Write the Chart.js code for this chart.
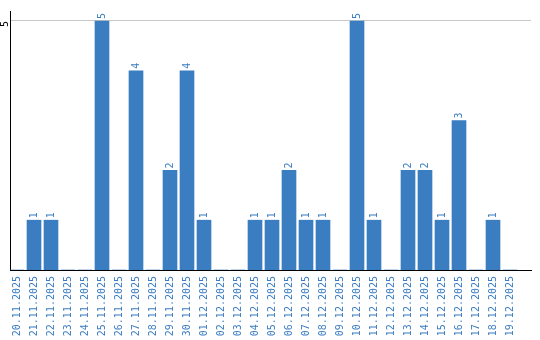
<!DOCTYPE html>
<html>
<head>
<meta charset="utf-8">
<script src="https://cdn.jsdelivr.net/npm/chart.js@4/dist/chart.umd.min.js"></script>
<style>
  html, body { margin: 0; padding: 0; background: #ffffff; }
  #wrap { width: 540px; height: 340px; }
</style>
</head>
<body>
<div id="wrap"><canvas id="c" width="540" height="340"></canvas></div>
<script>
const categories = [
  "20.11.2025","21.11.2025","22.11.2025","23.11.2025","24.11.2025","25.11.2025",
  "26.11.2025","27.11.2025","28.11.2025","29.11.2025","30.11.2025","01.12.2025",
  "02.12.2025","03.12.2025","04.12.2025","05.12.2025","06.12.2025","07.12.2025",
  "08.12.2025","09.12.2025","10.12.2025","11.12.2025","12.12.2025","13.12.2025",
  "14.12.2025","15.12.2025","16.12.2025","17.12.2025","18.12.2025","19.12.2025"
];
const values = [
  0,1,1,0,0,5,
  0,4,0,2,4,1,
  0,0,1,1,2,1,
  1,0,5,1,0,2,
  2,1,3,0,1,0
];
const yTicks = [5];

const BLUE = '#3b7dc1';
const FONT = '"DejaVu Sans Mono", "Liberation Mono", monospace';

const valueLabels = {
  id: 'valueLabels',
  afterDatasetsDraw(chart) {
    const ctx = chart.ctx;
    const meta = chart.getDatasetMeta(0);
    ctx.save();
    ctx.fillStyle = BLUE;
    ctx.font = '10px ' + FONT;
    ctx.textAlign = 'left';
    ctx.textBaseline = 'middle';
    meta.data.forEach((el, i) => {
      const v = values[i];
      if (!v) return;
      ctx.save();
      ctx.translate(el.x, el.y - 2);
      ctx.rotate(-Math.PI / 2);
      ctx.fillText(String(v), 0, 0);
      ctx.restore();
    });
    ctx.restore();
  }
};

new Chart(document.getElementById('c'), {
  type: 'bar',
  data: {
    datasets: [{
      data: categories.map((c, i) => ({ x: i, y: values[i] })),
      backgroundColor: BLUE,
      borderWidth: 0,
      barThickness: 14
    }]
  },
  options: {
    responsive: false,
    animation: false,
    devicePixelRatio: 1,
    layout: { padding: { left: 0, right: 9, top: 10, bottom: 0 } },
    plugins: { legend: { display: false }, tooltip: { enabled: false } },
    scales: {
      x: {
        type: 'linear',
        offset: false,
        min: -7 / 17,
        max: 514 / 17,
        afterBuildTicks(scale) { scale.ticks = categories.map((c, i) => ({ value: i })); },
        afterFit(scale) { scale.height = 70; },
        grid: { display: false, drawTicks: false, offset: false },
        border: { display: true, color: '#000000', width: 1 },
        ticks: {
          autoSkip: false,
          minRotation: 90,
          maxRotation: 90,
          padding: 6,
          color: BLUE,
          font: { family: FONT, size: 10 },
          callback: (v) => categories[v] ?? ''
        }
      },
      y: {
        min: 0,
        max: 5.2,
        afterBuildTicks(scale) { scale.ticks = yTicks.map(v => ({ value: v })); },
        afterFit(scale) { scale.width = 10; },
        grid: { color: '#c8c8c8', drawTicks: false, lineWidth: 1 },
        border: { display: true, color: '#000000', width: 1 },
        ticks: {
          minRotation: 90,
          maxRotation: 90,
          padding: 5,
          color: '#000000',
          font: { family: FONT, size: 10 }
        }
      }
    }
  },
  plugins: [valueLabels]
});
</script>
</body>
</html>
